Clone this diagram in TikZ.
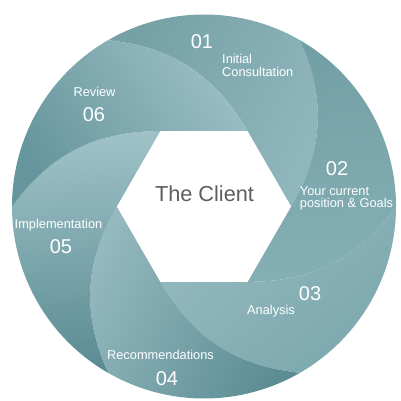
\documentclass[tikz,border=0pt]{standalone}
\usepackage{fontspec}
\setmainfont{Liberation Sans}
\definecolor{lA}{HTML}{90B7BD}\definecolor{dA}{HTML}{74A0A6}
\definecolor{lB}{HTML}{84AFB5}\definecolor{dB}{HTML}{729FA5}
\definecolor{lC}{HTML}{94B9BE}\definecolor{dC}{HTML}{7CA8AE}
\definecolor{lD}{HTML}{94B9BE}\definecolor{dD}{HTML}{5C8D95}
\definecolor{lE}{HTML}{9FC2C7}\definecolor{dE}{HTML}{5A8B93}
\definecolor{lF}{HTML}{9ABEC3}\definecolor{dF}{HTML}{66969D}
\definecolor{clientgray}{HTML}{5E5E5E}
\newcommand\bladeshape[4]{% #1 phi, #2 light, #3 dark, #4 shading angle
  \shade[top color=#3, bottom color=#2, shading angle=#4]
    ({#1-60}:87) to[out=#1, in={#1-126}] (#1:192)
    arc[start angle=#1, end angle={#1+60}, radius=192]
    to[out={#1-66}, in={#1+60}] (#1:87) -- cycle;}
\begin{document}
\begin{tikzpicture}[x=1pt,y=1pt,
  lbl/.style={text=white, inner sep=0pt, anchor=base, font=\fontsize{12.8}{14}\selectfont},
  lblw/.style={lbl, anchor=base west},
  num/.style={text=white, inner sep=0pt, anchor=base, font=\fontsize{20}{22}\selectfont}]
\useasboundingbox (-204,-194.5) rectangle (196,206.5);
\bladeshape{60}{lA}{dA}{64}
\bladeshape{0}{lB}{dB}{4}
\bladeshape{-60}{lC}{dC}{-140}
\bladeshape{-120}{lD}{dD}{-116}
\bladeshape{180}{lE}{dE}{-176}
\bladeshape{120}{lF}{dF}{124}
\fill[white] (0:87) -- (60:87) -- (120:87) -- (180:87) -- (240:87) -- (300:87) -- cycle;
\node[inner sep=0pt, anchor=base, text=clientgray, font=\fontsize{21.7}{24}\selectfont] (client) at (0.5,4.8) {The Client};
% 01
\node[num] (n1) at (-2,157.5) {01};
\node[lblw] (t1a) at (18,142.8) {Initial};
\node[lblw] (t1b) at (18,130) {Consultation};
% 02
\node[num] (n2) at (133,30.8) {02};
\node[lblw] (t2a) at (95.7,10.5) {Your current};
\node[lblw] (t2b) at (95.7,-1.2) {position \& Goals};
% 03
\node[num] (n3) at (106,-93.5) {03};
\node[lbl] (t3) at (67,-107.8) {Analysis};
% 04
\node[lbl] (t4) at (-43.5,-152.8) {Recommendations};
\node[num] (n4) at (-37,-178.5) {04};
% 05
\node[lbl] (t5) at (-145.5,-22.2) {Implementation};
\node[num] (n5) at (-143,-46.5) {05};
% 06
\node[lbl] (t6) at (-109.5,109.8) {Review};
\node[num] (n6) at (-110,84.8) {06};
\end{tikzpicture}
\end{document}
